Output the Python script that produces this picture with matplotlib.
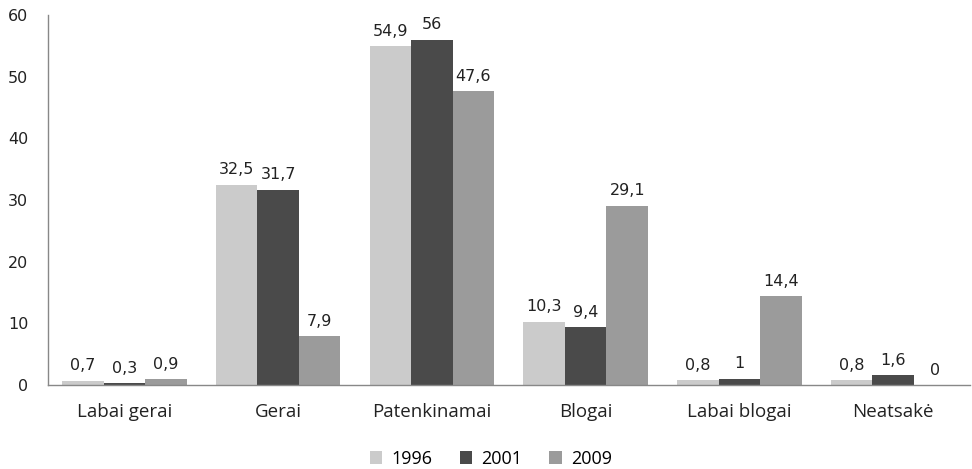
import numpy as np
import matplotlib.pyplot as plt

categories = ["Labai gerai", "Gerai", "Patenkinamai", "Blogai", "Labai blogai", "Neatsakė"]
years = ["1996", "2001", "2009"]
v1996 = [0.7, 32.5, 54.9, 10.3, 0.8, 0.8]
v2001 = [0.3, 31.7, 56, 9.4, 1, 1.6]
v2009 = [0.9, 7.9, 47.6, 29.1, 14.4, 0]
colors = ["#cbcbcb", "#4a4a4a", "#9b9b9b"]

fig = plt.figure(figsize=(9.72, 4.69), dpi=100)
ax = fig.add_axes([0.049, 0.179, 0.949, 0.789])

x = np.arange(len(categories))
w = 0.27
for i, (vals, lab, c) in enumerate(zip([v1996, v2001, v2009], years, colors)):
    pos = x + (i - 1) * w
    ax.bar(pos, vals, width=w, color=c, label=lab)
    for p, v in zip(pos, vals):
        txt = f"{v:g}".replace(".", ",")
        ax.text(p, v + 1.2, txt, ha="center", va="bottom", fontsize=11.5,
                family="DejaVu Sans", color="#222222")

ax.set_xlim(-0.5, len(categories) - 0.5)
ax.set_ylim(0, 60)
ax.set_yticks(range(0, 61, 10))
ax.set_xticks(x)
ax.set_xticklabels(categories, family="Open Sans", fontsize=13.5)
for t in ax.get_yticklabels():
    t.set_family("DejaVu Sans")
    t.set_fontsize(11.5)
ax.tick_params(axis="both", length=0, colors="#222222")
ax.tick_params(axis="x", pad=13)
ax.tick_params(axis="y", pad=14)
for s in ["top", "right"]:
    ax.spines[s].set_visible(False)
for s in ["left", "bottom"]:
    ax.spines[s].set_color("#888888")
    ax.spines[s].set_linewidth(1.0)

fig.legend(*ax.get_legend_handles_labels(), loc="lower center",
           bbox_to_anchor=(0.505, -0.005), ncol=3, frameon=False,
           prop={"family": "Open Sans", "size": 13}, handlelength=0.7, handleheight=0.7,
           columnspacing=1.5, handletextpad=0.5, borderaxespad=0.0, borderpad=0.2)

fig.savefig("out.png", dpi=100)
